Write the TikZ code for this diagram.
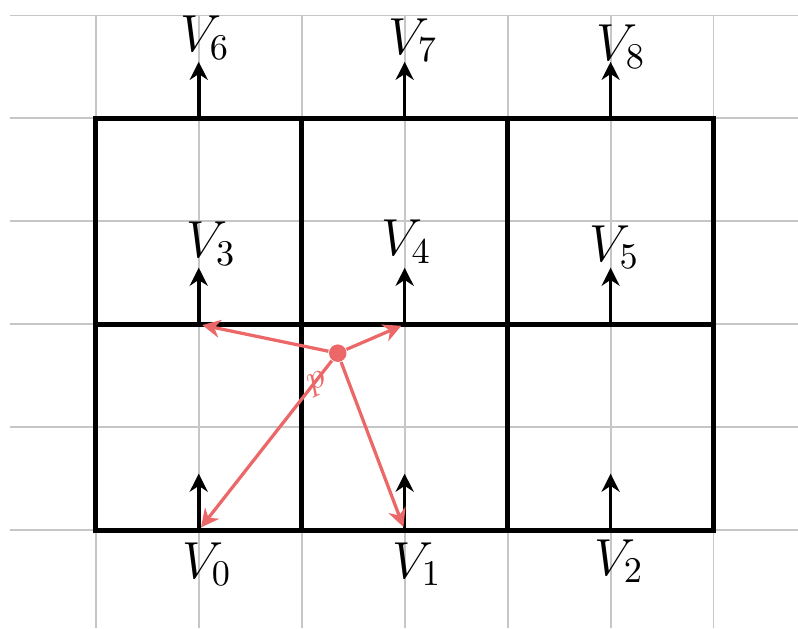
\documentclass[tikz,border=0pt]{standalone}
\usepackage{xcolor}
\usetikzlibrary{arrows.meta}

\definecolor{penred}{RGB}{236,104,104}

\begin{document}
\begin{tikzpicture}[>={Stealth[length=5pt,width=5pt]}, font=\Large,
    paper/.style={gray!45, line width=0.5pt},
    cell/.style={line width=1.5pt},
    vec/.style={->, line width=1pt},
    ray/.style={->, penred, line width=0.9pt, shorten >=1pt},
    lab/.style={inner sep=1pt}]
        \useasboundingbox (-0.93,-0.95) rectangle (6.82,5.15);

        % squared paper
        \foreach \y in {0,...,5}
            \draw[paper] (-0.83,\y) -- (6.82,\y);
        \foreach \x in {0,...,6}
            \draw[paper] (\x,5) -- (\x,-0.95);

        % cells
        \draw[cell] (0,0) rectangle (6,4);
        \draw[cell] (2,0) -- (2,4) (4,0) -- (4,4) (0,2) -- (6,2);

        % vertices and their vectors
        \foreach \i/\x/\y in {0/1/0, 1/3/0, 2/5/0, 3/1/2, 4/3/2, 5/5/2, 6/1/4, 7/3/4, 8/5/4} {
            \coordinate (v\i) at (\x,\y);
            \coordinate (t\i) at (\x,\y+0.55);
            \draw[vec] (v\i) -- (t\i);
        }

        \node[lab] (l0) at (1.08,-0.33) {$V_0$};
        \node[lab] (l1) at (3.12,-0.33) {$V_1$};
        \node[lab] (l2) at (5.08,-0.3) {$V_2$};
        \node[lab] (l3) at (1.12,2.78) {$V_3$};
        \node[lab] (l4) at (3.02,2.8) {$V_4$};
        \node[lab] (l5) at (5.04,2.75) {$V_5$};
        \node[lab] (l6) at (1.06,4.78) {$V_6$};
        \node[lab] (l7) at (3.08,4.76) {$V_7$};
        \node[lab] (l8) at (5.1,4.7) {$V_8$};

        % sample point
        \node[circle, fill=penred, inner sep=0pt, minimum size=0.17cm] (p) at (2.35,1.72) {};
        \node[penred, rotate=25, font=\normalsize] (pl) at (2.16,1.42) {$p$};

        \path[ray]
        (p) edge (v3)
        (p) edge (v4)
        (p) edge (v0)
        (p) edge (v1);

    \end{tikzpicture}
\end{document}
